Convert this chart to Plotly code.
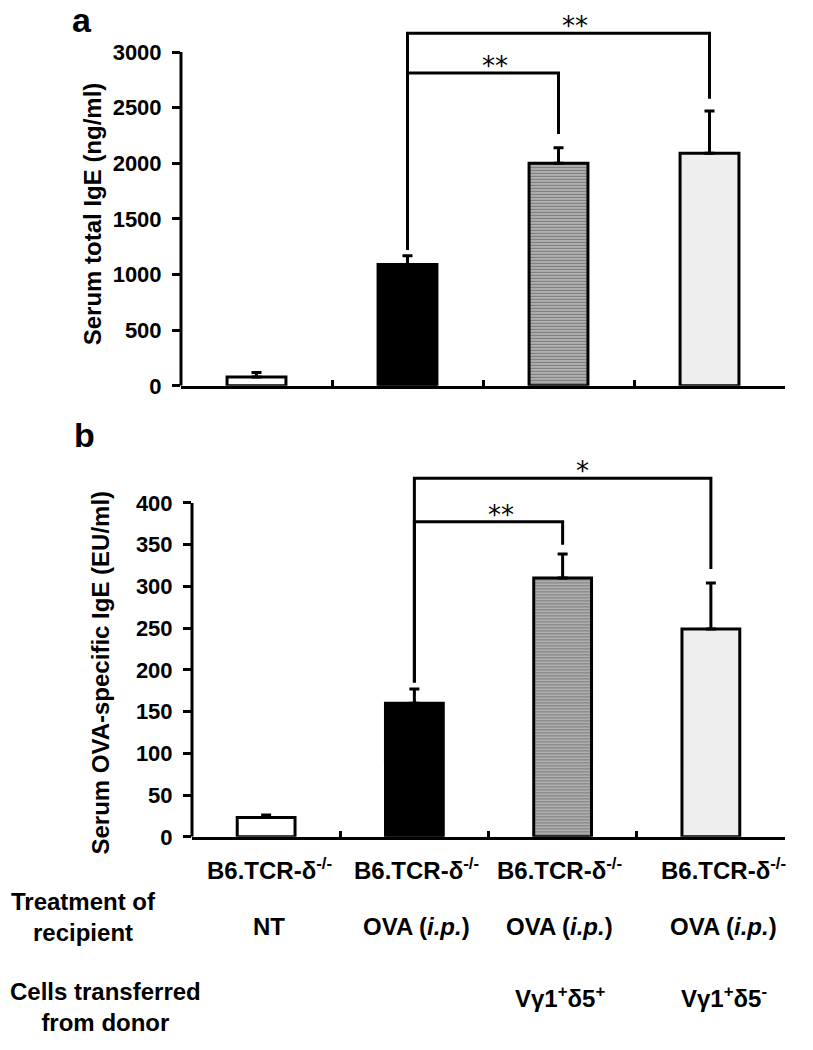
import plotly.graph_objects as go

# ---------------- data ----------------
categories = ["NT", "OVA", "OVA + Vγ1+δ5+", "OVA + Vγ1+δ5-"]

total_ige = [80, 1090, 2000, 2090]          # panel a means (ng/ml)
total_ige_err = [120, 1170, 2140, 2470]     # panel a top of error bars

ova_ige = [23, 160, 310, 249]               # panel b means (EU/ml)
ova_ige_err = [26, 177, 339, 304]           # panel b top of error bars

a_ticks = [0, 500, 1000, 1500, 2000, 2500, 3000]
b_ticks = [0, 50, 100, 150, 200, 250, 300, 350, 400]

# brackets: (left idx, right idx, bracket height, left leg bottom, right leg bottom, label)
a_brackets = [(1, 3, 3169, 1222, 2580, "**"), (1, 2, 2811, 1222, 2263, "**")]
b_brackets = [(1, 3, 429.6, 185, 321, "*"), (1, 2, 377.5, 185, 350, "**")]

strain_labels = ["B6.TCR-δ<sup>-/-</sup>"] * 4
treatment_labels = ["NT", "OVA (<i>i.p.</i>)", "OVA (<i>i.p.</i>)", "OVA (<i>i.p.</i>)"]
donor_labels = ["", "", "Vγ1<sup>+</sup>δ5<sup>+</sup>", "Vγ1<sup>+</sup>δ5<sup>-</sup>"]

# ---------------- style ----------------
W, H = 813, 1050
FONT = "Liberation Sans, Arial, sans-serif"
fill_colors = ["#ffffff", "#000000", "#b4b4b4", "#eeeeee"]
pat_shapes = ["", "", "-", ""]
pat_fg = ["#ffffff", "#000000", "#a2a2a2", "#eeeeee"]
pat_size = [6, 6, 3, 9]
pat_sol = [0.3, 0.3, 0.4, 0.15]

def px(x):
    return x / W

def py(y):
    return 1 - y / H

xpos = list(range(len(categories)))

fig = go.Figure()

def add_panel(vals, tops, xa, ya):
    fig.add_trace(go.Bar(
        x=xpos, y=vals, width=0.39, xaxis=xa, yaxis=ya,
        marker=dict(color=fill_colors,
                    line=dict(color="black", width=3),
                    pattern=dict(shape=pat_shapes, bgcolor=fill_colors,
                                 fgcolor=pat_fg, size=pat_size, solidity=pat_sol)),
        error_y=dict(type="data", symmetric=False,
                     array=[t - v for t, v in zip(tops, vals)],
                     arrayminus=[0] * len(vals),
                     color="black", thickness=3, width=5),
        showlegend=False, hoverinfo="skip"))

add_panel(total_ige, total_ige_err, "x", "y")
add_panel(ova_ige, ova_ige_err, "x2", "y2")

annotations = []
shapes = []

def add_brackets(brs, xa, ya):
    for (l, r, h, lb, rb, lab) in brs:
        fig.add_trace(go.Scatter(
            x=[l, l, r, r], y=[lb, h, h, rb], mode="lines",
            line=dict(color="black", width=3), xaxis=xa, yaxis=ya,
            showlegend=False, hoverinfo="skip"))

add_brackets(a_brackets, "x", "y")
add_brackets(b_brackets, "x2", "y2")

star_shift = {("x", 0): 16, ("x", 1): 12, ("x2", 0): 20, ("x2", 1): 12}
for xa, ya, brs in [("x", "y", a_brackets), ("x2", "y2", b_brackets)]:
    for i, (l, r, h, lb, rb, lab) in enumerate(brs):
        annotations.append(dict(
            x=(l + r) / 2, y=h, xref=xa, yref=ya, text=lab, showarrow=False,
            xanchor="center", yanchor="middle", xshift=star_shift[(xa, i)], yshift=7,
            font=dict(family="DejaVu Sans", size=26, color="black")))

# y axis lines only up to the top tick
for xa, ya, top in [("x", "y", a_ticks[-1]), ("x2", "y2", b_ticks[-1])]:
    shapes.append(dict(type="line", xref=xa + " domain", yref=ya,
                       x0=0, x1=0, y0=0, y1=top,
                       line=dict(color="black", width=3)))

# panel letters
annotations.append(dict(x=px(82), y=py(20), xref="paper", yref="paper", text="<b>a</b>",
                        showarrow=False, xanchor="center", yanchor="middle",
                        font=dict(family=FONT, size=34, color="black")))
annotations.append(dict(x=px(84), y=py(440), xref="paper", yref="paper", text="<b>b</b>",
                        showarrow=False, xanchor="center", yanchor="middle",
                        font=dict(family=FONT, size=34, color="black")))

# y axis titles
annotations.append(dict(x=px(92), y=py(217), xref="paper", yref="paper",
                        text="<b>Serum total IgE (ng/ml)</b>", textangle=-90,
                        showarrow=False, xanchor="center", yanchor="middle",
                        font=dict(family=FONT, size=24, color="black")))
annotations.append(dict(x=px(101), y=py(681), xref="paper", yref="paper",
                        text="<b>Serum OVA-specific IgE (EU/ml)</b>", textangle=-90,
                        showarrow=False, xanchor="center", yanchor="middle",
                        font=dict(family=FONT, size=24, color="black")))

# bottom table
col_shift = [3, 2, -3, 13]
for row_y, labels in [(880, strain_labels), (938, treatment_labels), (1010, donor_labels)]:
    for i, lab in enumerate(labels):
        if not lab:
            continue
        annotations.append(dict(x=xpos[i], y=py(row_y), xref="x2", yref="paper",
                                text="<b>" + lab + "</b>", showarrow=False,
                                xanchor="center", yanchor="middle", xshift=col_shift[i],
                                font=dict(family=FONT, size=24, color="black")))
annotations.append(dict(x=px(83), y=py(929), xref="paper", yref="paper",
                        text="<b>Treatment of<br>recipient</b>", showarrow=False,
                        xanchor="center", yanchor="middle", align="center",
                        font=dict(family=FONT, size=24, color="black")))
annotations.append(dict(x=px(105), y=py(1020), xref="paper", yref="paper",
                        text="<b>Cells transferred<br>from donor</b>", showarrow=False,
                        xanchor="center", yanchor="middle", align="center",
                        font=dict(family=FONT, size=24, color="black")))

# axes geometry
a_zero_px, a_top_px, a_tick_top_px = 390.7, 10, 52.7
b_zero_px, b_top_px, b_tick_top_px = 847.3, 455, 509.3
a_range_top = a_ticks[-1] * (a_zero_px - a_top_px) / (a_zero_px - a_tick_top_px)
b_range_top = b_ticks[-1] * (b_zero_px - b_top_px) / (b_zero_px - b_tick_top_px)

xcommon = dict(range=[-0.5, len(categories) - 0.5], showline=True, linecolor="black",
               linewidth=3, tickvals=[i + 0.5 for i in xpos], ticks="inside", ticklen=6,
               tickwidth=3, tickcolor="black", showticklabels=False, showgrid=False,
               zeroline=False, fixedrange=True)
ycommon = dict(showline=False, ticks="outside", ticklen=8, tickwidth=3, tickcolor="black",
               showgrid=False, zeroline=False, ticklabelstandoff=6, fixedrange=True,
               tickfont=dict(family=FONT, size=22, color="black", weight="bold"))

fig.update_layout(
    width=W, height=H, margin=dict(l=0, r=0, t=0, b=0),
    paper_bgcolor="white", plot_bgcolor="white", showlegend=False,
    xaxis=dict(domain=[px(181), px(785)], anchor="y", **xcommon),
    yaxis=dict(domain=[py(a_zero_px), py(a_top_px)], range=[0, a_range_top],
               tickvals=a_ticks, anchor="x", **ycommon),
    xaxis2=dict(domain=[px(192), px(785)], anchor="y2", **xcommon),
    yaxis2=dict(domain=[py(b_zero_px), py(b_top_px)], range=[0, b_range_top],
                tickvals=b_ticks, anchor="x2", **ycommon),
    annotations=annotations, shapes=shapes,
)

fig.write_html("out.html", config={"displayModeBar": False},
               post_script="document.body.style.margin='0';")
